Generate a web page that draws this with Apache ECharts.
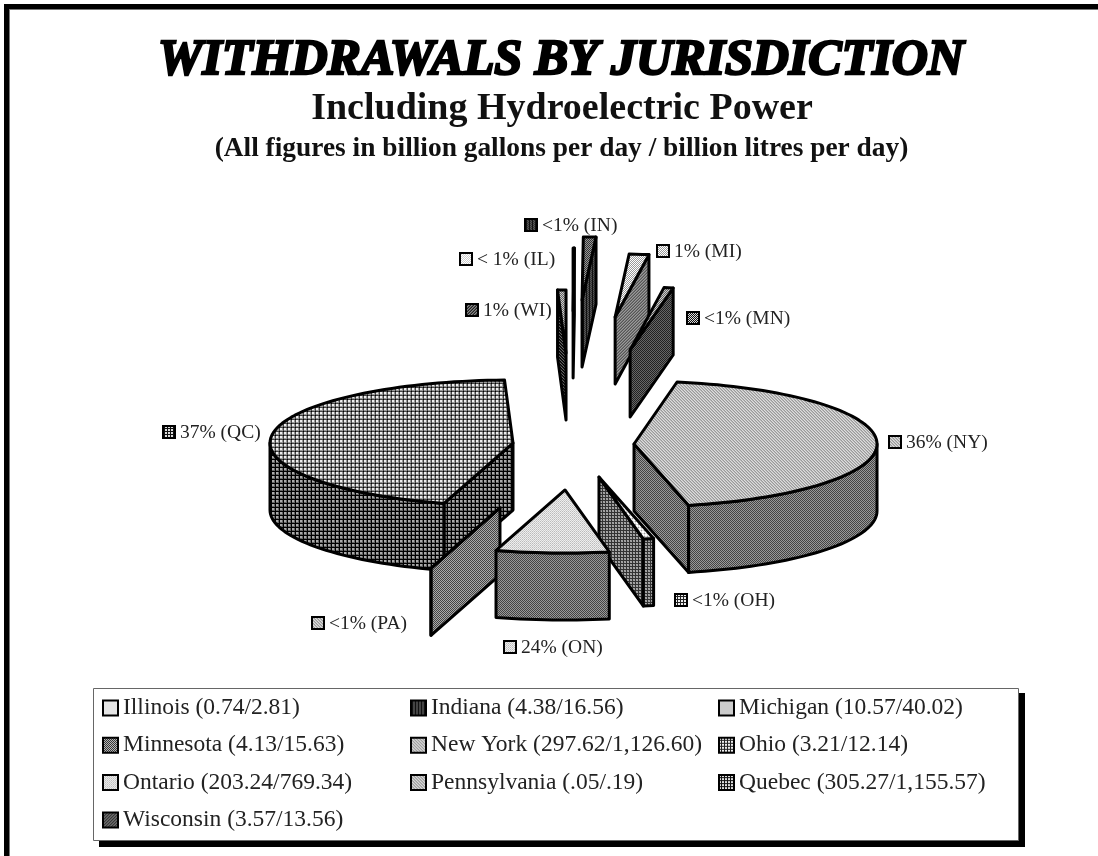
<!DOCTYPE html>
<html>
<head>
<meta charset="utf-8">
<style>html,body{margin:0;padding:0;background:#fff}#main{width:1098px;height:856px}</style>
<script src="https://cdn.jsdelivr.net/npm/echarts@6/dist/echarts.min.js"></script>
</head>
<body>
<div id="main"></div>
<script>
// values
var states = ['Illinois', 'Indiana', 'Michigan', 'Minnesota', 'New York', 'Ohio', 'Ontario', 'Pennsylvania', 'Quebec', 'Wisconsin'];
var gallons = [0.74, 4.38, 10.57, 4.13, 297.62, 3.21, 203.24, 0.05, 305.27, 3.57];
var gallonLabels = ['0.74', '4.38', '10.57', '4.13', '297.62', '3.21', '203.24', '.05', '305.27', '3.57'];
var litreLabels = ['2.81', '16.56', '40.02', '15.63', '1,126.60', '12.14', '769.34', '.19', '1,155.57', '13.56'];
var sliceLabels = ['< 1% (IL)', '<1% (IN)', '1% (MI)', '<1% (MN)', '36% (NY)', '<1% (OH)', '24% (ON)', '<1% (PA)', '37% (QC)', '1% (WI)'];

// pie layout
var cx = 574, cy = 444, rx = 243, ry = 63, depth = 67;
// the original projection squeezes the front of the pie: share of circle -> drawn angle
var warpIn = [0, 0.32, 2.213, 6.783, 8.568, 137.22, 138.61, 226.49, 358.46, 360];
var warpOut = [0, 0.3, 3.3, 8, 10.2, 167, 169.5, 196.5, 358, 360];
// how far each slice was pulled out, and in which direction
var explodeDist = [2.11, 2.286, 2.023, 1.51, 0.247, 0.534, 0.731, 1.06, 0.2515, 1.444];
var explodeBearing = [-0.1, 0.83, 4.8, 8.8, 90, 168.9, 182.9, 196.7, 273.6, 358.7];
var paintOrder = [0, 1, 9, 2, 3, 8, 4, 5, 7, 6];
// slice label swatch left / middle
var labelX = [459, 524, 656, 686, 888, 674, 503, 311, 162, 465];
var labelY = [259, 225, 251, 318, 442, 600, 647, 623, 432, 310];

function tile(rows) {
  var c = document.createElement('canvas');
  c.width = rows[0].length;
  c.height = rows.length;
  var ctx = c.getContext('2d');
  rows.forEach(function(row, y) {
    row.split('').forEach(function(ch, x) {
      var g = ch + ch;
      ctx.fillStyle = '#' + g + g + g;
      ctx.fillRect(x, y, 1, 1);
    });
  });
  return {image: c, repeat: 'repeat'};
}

var topFill = [
  tile(['fc', 'cf']),
  tile(['39', '93']),
  tile(['f9', '9f']),
  tile(['c6', '6c']),
  tile(['db9', '9db', 'b9d']),
  tile(['ffd', 'ffd', 'dd9']),
  tile(['ec', 'be']),
  tile(['e9', '9e']),
  tile(['ee94', 'ee94', '9994', '4440']),
  tile(['c6', '6c'])
];
var sideFill = [
  tile(['6']),
  tile(['315', '513']),
  tile(['759', '597', '975']),
  tile(['26', '62']),
  tile(['49', '94']),
  tile(['a93', '9a3', '333']),
  tile(['49', '94']),
  tile(['4a', 'a4']),
  tile(['aa60', 'aa60', '6660', '0000']),
  tile(['206', '620', '062'])
];
var swatchFill = [
  topFill[0],
  tile(['315', '513']),
  topFill[2],
  tile(['d1', '1d']),
  topFill[4],
  tile(['ee2', 'ee2', '222']),
  topFill[6],
  topFill[4],
  tile(['dd1', 'dd1', '111']),
  tile(['528', '285', '852'])
];

var total = gallons.reduce(function(a, b) { return a + b; }, 0);

function warp(deg) {
  for (var i = 1; i < warpIn.length; i++) {
    if (deg <= warpIn[i]) {
      return echarts.number.linearMap(deg, [warpIn[i - 1], warpIn[i]], [warpOut[i - 1], warpOut[i]]);
    }
  }
  return 360;
}

var bounds = [0];
gallons.forEach(function(v, i) {
  bounds.push(bounds[i] + v / total * 360);
});

function onRim(deg, ox, oy, scale) {
  var a = deg * Math.PI / 180;
  return [ox + scale * rx * Math.sin(a), oy - scale * ry * Math.cos(a)];
}

function down(p) {
  return [p[0], p[1] + depth];
}

function face(points, fill) {
  return {
    type: 'polygon',
    shape: {points: points},
    style: {fill: fill, stroke: '#000', lineWidth: 3, lineJoin: 'round'}
  };
}

function arcPoints(from, to, ox, oy) {
  var pts = [];
  var n = Math.max(2, Math.ceil((to - from) / 2));
  for (var k = 0; k <= n; k++) {
    pts.push(onRim(from + (to - from) * k / n, ox, oy, 1));
  }
  return pts;
}

function drawSlice(i) {
  var start = warp(bounds[i]);
  var end = warp(bounds[i + 1]);
  var apex = onRim(explodeBearing[i], cx, cy, explodeDist[i]);
  var ax = apex[0], ay = apex[1];
  var children = [];

  // cut faces toward the viewer
  if (end > 0 && end < 180) {
    var e = onRim(end, ax, ay, 1);
    children.push(face([apex, e, down(e), down(apex)], sideFill[i]));
  }
  if (start > 180 && start < 360) {
    var s = onRim(start, ax, ay, 1);
    children.push(face([apex, s, down(s), down(apex)], sideFill[i]));
  }
  // outer wall, front half only
  var wallFrom = Math.max(start, 90), wallTo = Math.min(end, 270);
  if (wallTo > wallFrom) {
    var rim = arcPoints(wallFrom, wallTo, ax, ay);
    children.push(face(rim.concat(rim.map(down).reverse()), sideFill[i]));
  }
  children.push(face([apex].concat(arcPoints(start, end, ax, ay)), topFill[i]));

  // slice label
  children.push({
    type: 'rect',
    shape: {x: labelX[i] + 1, y: labelY[i] - 6, width: 12, height: 12},
    style: {fill: swatchFill[i], stroke: '#000', lineWidth: 2}
  });
  children.push({
    type: 'text',
    style: {
      x: labelX[i] + 18, y: labelY[i] + 1, text: sliceLabels[i],
      fill: '#222', font: '19.5px "Liberation Serif"',
      verticalAlign: 'middle', align: 'left'
    }
  });
  return {type: 'group', children: children};
}

function legendName(i) {
  return states[i] + ' (' + gallonLabels[i] + '/' + litreLabels[i] + ')';
}

var series = paintOrder.map(function(i) {
  return {
    type: 'custom',
    name: legendName(i),
    coordinateSystem: 'none',
    silent: true,
    animation: false,
    itemStyle: {color: swatchFill[i]},
    data: [[gallons[i]]],
    renderItem: function() { return drawSlice(i); }
  };
});

function legendColumn(idx, left) {
  return {
    orient: 'vertical',
    left: left,
    top: 691,
    itemWidth: 15,
    itemHeight: 15,
    itemGap: 13.3,
    selectedMode: false,
    icon: 'rect',
    textStyle: {fontFamily: 'Liberation Serif', fontSize: 23.5, color: '#222', lineHeight: 19},
    data: idx.map(function(i) {
      return {
        name: legendName(i),
        itemStyle: {color: swatchFill[i], borderColor: '#000', borderWidth: 2}
      };
    })
  };
}

var myChart = echarts.init(document.getElementById('main'), null, {renderer: 'canvas'});
myChart.setOption({
  backgroundColor: '#fff',
  animation: false,
  title: [
    {
      text: 'WITHDRAWALS BY JURISDICTION', left: 556, top: 31, textAlign: 'center',
      textStyle: {fontFamily: 'Liberation Serif', fontWeight: 'bold', fontStyle: 'italic', fontSize: 50, color: '#000', textBorderColor: '#000', textBorderWidth: 2.5}
    },
    {
      text: 'Including Hydroelectric Power', left: 557, top: 85, textAlign: 'center',
      textStyle: {fontFamily: 'Liberation Serif', fontWeight: 'bold', fontSize: 38, color: '#111'}
    },
    {
      text: '(All figures in billion gallons per day / billion litres per day)', left: 556.5, top: 130, textAlign: 'center',
      textStyle: {fontFamily: 'Liberation Serif', fontWeight: 'bold', fontSize: 27.4, color: '#111'}
    }
  ],
  legend: [
    legendColumn([0, 3, 6, 9], 97),
    legendColumn([1, 4, 7], 405),
    legendColumn([2, 5, 8], 713)
  ],
  graphic: [
    // page frame
    {type: 'rect', z: -1, shape: {x: 4, y: 4, width: 1094, height: 5}, style: {fill: '#000'}},
    {type: 'rect', z: -1, shape: {x: 4, y: 4, width: 5, height: 852}, style: {fill: '#000'}},
    {type: 'rect', z: -1, shape: {x: 9, y: 9, width: 1089, height: 1}, style: {fill: '#777'}},
    {type: 'rect', z: -1, shape: {x: 9, y: 9, width: 1, height: 847}, style: {fill: '#777'}},
    // legend box and its drop shadow
    {type: 'rect', z: -1, shape: {x: 99, y: 693, width: 926, height: 154}, style: {fill: '#000'}},
    {type: 'rect', z: -1, shape: {x: 93.5, y: 688.5, width: 925, height: 152}, style: {fill: '#fff', stroke: '#666', lineWidth: 1}}
  ],
  series: series
});
</script>
</body>
</html>
